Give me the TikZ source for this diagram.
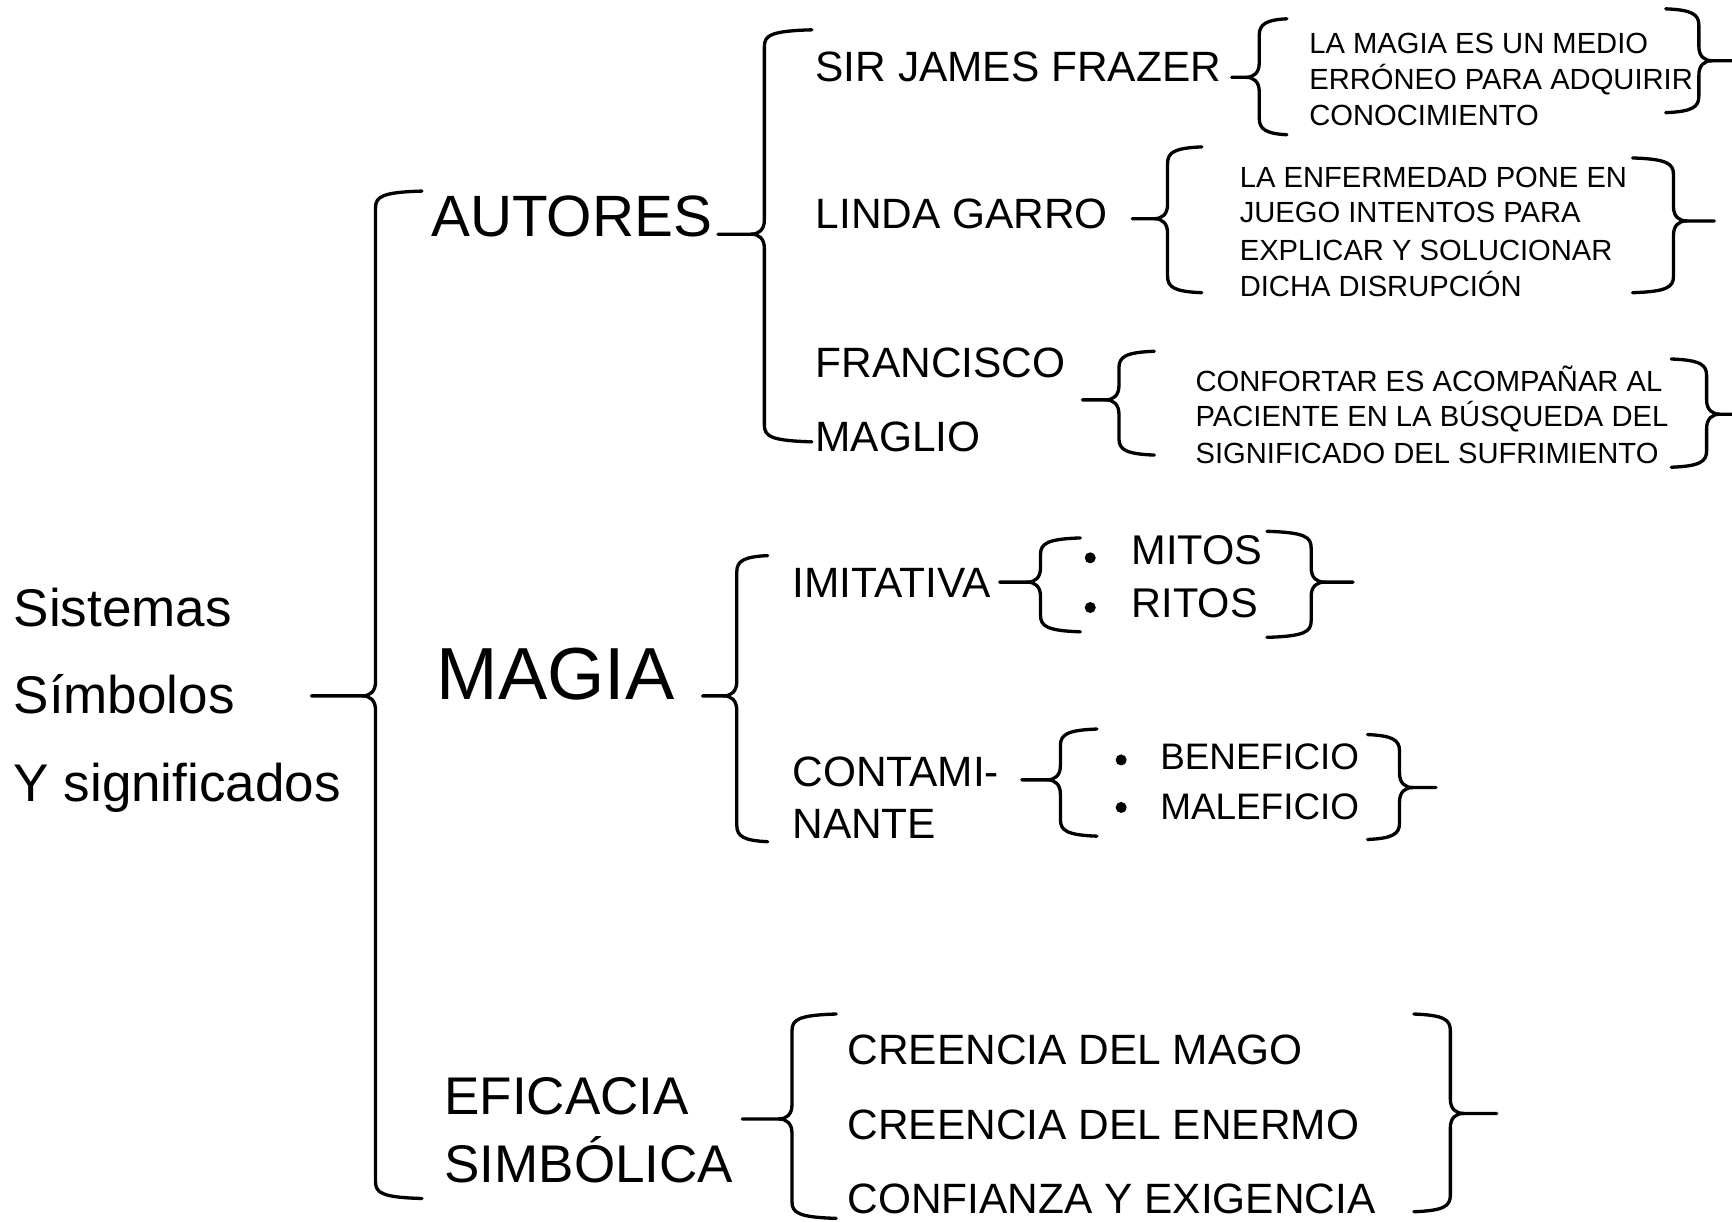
\documentclass[tikz,border=0pt]{standalone}
\usepackage{fontspec}
\setmainfont{Liberation Sans}
\newcommand{\Brc}[6]{%
  \pgfmathsetmacro{\BrSg}{ifthenelse(#2>#1,1,-1)}%
  \draw[brc] (#2,#3) .. controls ({#1+6*\BrSg},{#3+1}) and (#1,{#3+5}) .. (#1,{#3+15})
    -- (#1,{#5-13}) .. controls (#1,{#5-4}) and ({#1-5*\BrSg},#5) .. ({#1-12*\BrSg},#5) -- (#6,#5);
  \draw[brc] ({#1-12*\BrSg},#5) .. controls ({#1-5*\BrSg},#5) and (#1,{#5+4}) .. (#1,{#5+13})
    -- (#1,{#4-15}) .. controls (#1,{#4-5}) and ({#1+6*\BrSg},{#4-1}) .. (#2,#4);
}
\tikzset{
  brc/.style={line width=1.5pt, line cap=round, line join=round},
  lbl/.style={anchor=west, inner sep=0pt, text depth=0pt},
  big/.style={lbl, font=\fontsize{24}{28}\selectfont, text height=17.18pt},
  autf/.style={lbl, font=\fontsize{26.4}{30}\selectfont, text height=18.9pt},
  magf/.style={lbl, font=\fontsize{33.4}{38}\selectfont, text height=23.9pt},
  mid/.style={lbl, font=\fontsize{19.2}{23}\selectfont, text height=13.75pt},
  mit/.style={lbl, font=\fontsize{18.8}{22}\selectfont, text height=13.46pt},
  ben/.style={lbl, font=\fontsize{16.7}{20}\selectfont, text height=11.96pt},
  sml/.style={lbl, font=\fontsize{13.2}{16}\selectfont, text height=9.45pt},
  dot/.style={circle, fill=black, inner sep=0pt, minimum size=5pt}
}
\begin{document}
\begin{tikzpicture}[x=0.5pt, y=-0.5pt]
\useasboundingbox (0,0) rectangle (1568,1106);
\fill[white] (0,0) rectangle (1568,1106);
% left title
\node[big] (s1) at (12,550) {Sistemas};
\node[big] (s2) at (12,629) {Símbolos};
\node[big] (s3) at (12,708) {Y significados};
\Brc{340}{382}{173}{1085}{630}{282}
% level 2
\node[autf] (aut) at (390,195) {AUTORES};
\node[magf] (mag) at (395,609) {MAGIA};
\node[big] (ef1) at (402,992) {EFICACIA};
\node[big] (ef2) at (402,1053) {SIMBÓLICA};
\Brc{692}{735}{27}{400}{212}{650}
\Brc{667}{695}{503}{762}{630}{636}
\Brc{717}{757}{918}{1103}{1013}{672}
% autores
\node[mid] (fra) at (738,60) {SIR JAMES FRAZER};
\node[mid] (gar) at (738,193) {LINDA GARRO};
\node[mid] (fr1) at (738,328) {FRANCISCO};
\node[mid] (fr2) at (738,395) {MAGLIO};
\Brc{1140}{1165}{17}{122}{70}{1115}
\Brc{1538}{1508}{8}{102}{55}{1568}
\node[sml] (a1) at (1185,39) {LA MAGIA ES UN MEDIO};
\node[sml] (a2) at (1185,72) {ERRÓNEO PARA ADQUIRIR};
\node[sml] (a3) at (1185,104) {CONOCIMIENTO};
\Brc{1057}{1088}{133}{265}{198}{1025}
\Brc{1515}{1478}{143}{265}{200}{1552}
\node[sml] (b1) at (1122,160) {LA ENFERMEDAD PONE EN};
\node[sml] (b2) at (1122,192) {JUEGO INTENTOS PARA};
\node[sml] (b3) at (1122,226) {EXPLICAR Y SOLUCIONAR};
\node[sml] (b4) at (1122,259) {DICHA DISRUPCIÓN};
\Brc{1013}{1045}{318}{412}{362}{980}
\Brc{1545}{1513}{325}{423}{375}{1568}
\node[sml] (c1) at (1082,345) {CONFORTAR ES ACOMPAÑAR AL};
\node[sml] (c2) at (1082,377) {PACIENTE EN LA BÚSQUEDA DEL};
\node[sml] (c3) at (1082,410) {SIGNIFICADO DEL SUFRIMIENTO};
% magia
\node[mid] (imi) at (717,527) {IMITATIVA};
\node[mid] (con1) at (717,698) {CONTAMI-};
\node[mid] (con2) at (717,745) {NANTE};
\Brc{942}{978}{487}{572}{527}{905}
\Brc{1187}{1147}{481}{577}{527}{1225}
\node[dot] (d1) at (987,505) {};
\node[dot] (d2) at (987,550) {};
\node[mit] (mi) at (1024,498) {MITOS};
\node[mit] (ri) at (1024,546) {RITOS};
\Brc{960}{993}{660}{757}{706}{925}
\Brc{1267}{1238}{665}{760}{713}{1300}
\node[dot] (d3) at (1015,688) {};
\node[dot] (d4) at (1015,731) {};
\node[ben] (be) at (1050,685) {BENEFICIO};
\node[ben] (ma) at (1050,730) {MALEFICIO};
% eficacia
\node[mid] (e1) at (767,950) {CREENCIA DEL MAGO};
\node[mid] (e2) at (767,1018) {CREENCIA DEL ENERMO};
\node[mid] (e3) at (767,1085) {CONFIANZA Y EXIGENCIA};
\Brc{1313}{1280}{918}{1097}{1008}{1355}
\end{tikzpicture}
\end{document}
